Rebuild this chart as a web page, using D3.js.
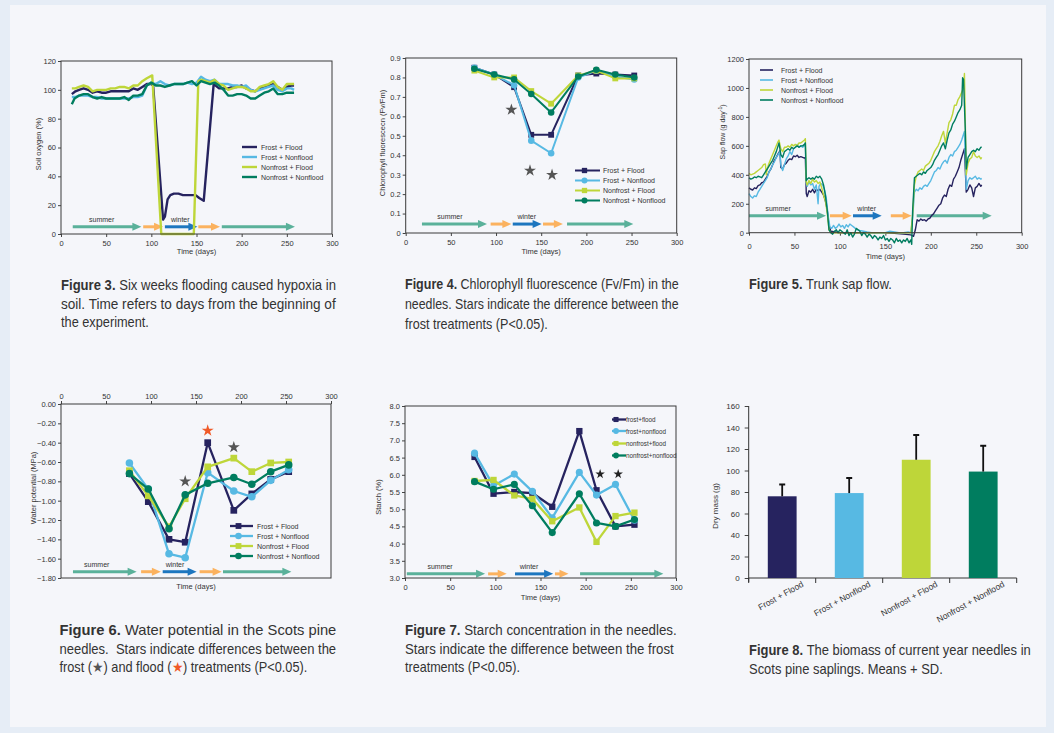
<!DOCTYPE html>
<html>
<head>
<meta charset="utf-8">
<script src="https://cdn.jsdelivr.net/npm/d3@7"></script>
<style>
  body { margin: 0; background: #e6edf6; }
  svg { display: block; font-family: "Liberation Sans", Arial, sans-serif; }
</style>
</head>
<body>
<div id="chart"></div>
<script>
// ---- shared ----
const treatments = ['Frost + Flood', 'Frost + Nonflood', 'Nonfrost + Flood', 'Nonfrost + Nonflood'];
const treatmentsLower = ['frost+flood', 'frost+nonflood', 'nonfrost+flood', 'nonfrost+nonflood'];
const colors = ['#26235f', '#57b9e3', '#bed639', '#007d5f'];
const markerShapes = ['square', 'circle', 'square', 'circle'];
const dayTicks = [0, 50, 100, 150, 200, 250, 300];
const seasonColors = ['#5ab19a', '#fbb25f', '#1d76bf', '#fbb25f', '#5ab19a'];

// ---- Figure 3: soil oxygen (%) ----
const oxyFF = [[12,97],[16,99],[20,100],[25,101],[30,100],[35,98],[40,99],[45,98],[50,98],[55,99],[60,99],[65,99],[70,99],[75,99],[80,101],[85,100],[90,102],[95,104],[100,104],[102,103],[113,10],[115,12],[118,24],[121,27],[125,28],[130,28],[135,27],[140,27],[145,27],[149,27],[153,25],[158,23],[169,104],[175,101],[180,101],[185,101],[190,102],[195,102],[200,103],[205,101],[210,100],[215,99],[220,101],[225,102],[230,103],[235,104],[240,102],[245,100],[250,102],[255,103],[258,103]];
const oxyFN = [[12,95],[16,95],[20,96],[25,96],[30,96],[35,95],[40,95],[45,94],[50,94],[55,94],[60,94],[65,94],[70,94],[75,94],[80,95],[85,95],[90,96],[95,103],[100,105],[105,104],[110,106],[115,104],[120,103],[125,104],[130,104],[135,104],[140,105],[145,104],[150,105],[155,109],[160,107],[165,106],[170,107],[175,104],[180,104],[185,104],[190,103],[195,103],[200,102],[205,103],[210,100],[215,99],[220,100],[225,101],[230,102],[235,103],[240,100],[245,99],[250,101],[255,101],[258,100]];
const oxyNF = [[12,101],[16,101],[20,102],[25,103],[30,102],[35,99],[40,100],[45,100],[50,100],[55,101],[60,101],[65,102],[70,102],[75,101],[80,103],[85,103],[90,106],[95,108],[101,110],[111,0],[147,0],[152,106],[155,107],[160,106],[165,105],[170,107],[175,104],[180,103],[185,100],[190,101],[195,102],[200,102],[205,101],[210,99],[215,99],[220,102],[225,103],[230,104],[235,106],[240,102],[245,100],[250,104],[255,104],[258,104]];
const oxyNN = [[12,90],[15,94],[20,96],[25,97],[30,97],[35,95],[40,94],[45,95],[50,94],[55,94],[60,94],[65,94],[70,95],[75,93],[80,96],[85,96],[90,97],[95,103],[100,105],[105,103],[110,103],[115,102],[120,103],[125,104],[130,104],[135,104],[140,105],[145,106],[150,103],[155,106],[160,105],[165,104],[170,105],[175,103],[180,100],[185,96],[190,96],[195,97],[200,97],[205,96],[210,94],[215,94],[220,96],[225,98],[230,99],[235,101],[240,97],[245,97],[250,98],[255,98],[258,98]];
const oxyTicks = [0, 20, 40, 60, 80, 100, 120];
const oxySeasons = [[13,89],[91,113],[115,151],[152,176],[178,259]];

// ---- Figure 4: chlorophyll fluorescence ----
const fvDays = [76, 98, 120, 139, 161, 191, 211, 232, 253];
const fvFF = [0.85, 0.815, 0.75, 0.505, 0.505, 0.81, 0.82, 0.815, 0.81];
const fvFN = [0.85, 0.815, 0.76, 0.475, 0.41, 0.80, 0.835, 0.805, 0.79];
const fvNF = [0.835, 0.80, 0.80, 0.73, 0.665, 0.81, 0.835, 0.795, 0.795];
const fvNN = [0.845, 0.815, 0.79, 0.715, 0.62, 0.805, 0.84, 0.815, 0.80];
const fvStars = [[117, 0.634], [137.6, 0.321], [162, 0.299]];
const fvTicks = [0, 0.1, 0.2, 0.3, 0.4, 0.5, 0.6, 0.7, 0.8, 0.9];
const fvSeasons = [[18,90],[94,117],[118.5,150.5],[152,174],[178.6,252]];

// ---- Figure 5: trunk sap flow ----
const sapFF = [[0,310],[2,300],[4,295],[6,310],[8,305],[10,325],[12,330],[14,345],[16,350],[18,370],[20,390],[22,420],[24,440],[26,470],[28,500],[30,520],[32,545],[34,565],[35,450],[37,440],[39,470],[41,480],[43,500],[45,510],[47,505],[49,530],[51,525],[53,535],[55,520],[57,525],[59,520],[61,515],[62,520],[63,270],[64,250],[66,290],[68,280],[70,300],[72,275],[74,300],[76,290],[78,300],[80,280],[82,260],[84,220],[86,160],[88,50],[90,10],[95,5],[100,0],[110,0],[120,0],[130,0],[140,0],[150,0],[160,-5],[170,-10],[178,-15],[181,-25],[183,20],[185,90],[187,80],[189,95],[191,85],[193,90],[195,80],[197,95],[199,100],[201,120],[203,130],[205,150],[207,170],[209,190],[211,200],[213,240],[215,260],[217,250],[219,300],[221,330],[223,320],[225,370],[227,390],[229,420],[231,450],[233,500],[235,540],[237,580],[239,280],[241,300],[243,330],[245,310],[247,250],[249,310],[251,320],[253,340],[255,320],[256,330]];
const sapFN = [[0,270],[2,250],[4,240],[6,255],[8,250],[10,280],[12,300],[14,320],[16,340],[18,360],[20,380],[22,420],[24,440],[26,470],[28,490],[30,520],[32,540],[34,560],[35,470],[37,430],[39,470],[41,510],[43,530],[45,560],[47,540],[49,580],[51,590],[53,610],[55,590],[57,600],[59,590],[61,600],[62,610],[63,340],[64,320],[66,350],[68,330],[70,340],[72,300],[74,330],[76,200],[77,320],[79,340],[81,330],[83,300],[85,240],[87,120],[89,40],[91,30],[93,50],[95,30],[97,40],[99,60],[101,40],[103,50],[105,30],[107,55],[109,40],[111,60],[113,50],[115,40],[117,30],[119,20],[122,15],[126,10],[130,5],[135,0],[140,0],[145,-5],[150,0],[155,10],[160,5],[165,0],[170,0],[175,5],[178,0],[180,100],[182,280],[184,300],[186,290],[188,310],[190,300],[192,320],[194,330],[196,320],[198,340],[200,360],[202,390],[204,420],[206,430],[208,450],[210,440],[212,470],[214,490],[216,500],[218,480],[220,520],[222,540],[224,530],[226,560],[228,570],[230,590],[232,610],[234,640],[236,680],[237,700],[239,300],[241,360],[243,380],[245,370],[247,380],[249,390],[251,370],[253,380],[255,370],[256,375]];
const sapNF = [[0,410],[2,400],[4,405],[6,410],[8,420],[10,430],[12,440],[14,450],[16,470],[18,475],[19,400],[20,440],[22,480],[24,510],[26,540],[28,570],[30,600],[32,630],[33,640],[35,580],[37,560],[39,590],[41,590],[43,600],[45,590],[47,610],[49,600],[51,610],[53,600],[55,620],[57,620],[59,630],[61,640],[62,650],[63,350],[64,330],[66,360],[68,340],[70,370],[72,350],[74,360],[76,340],[78,350],[80,310],[82,260],[84,220],[86,140],[88,20],[90,0],[100,0],[110,0],[120,0],[130,0],[140,0],[150,0],[160,0],[170,0],[178,0],[180,120],[182,330],[184,390],[186,420],[188,430],[190,440],[192,430],[194,460],[196,470],[198,480],[200,500],[202,530],[204,560],[206,580],[208,600],[210,630],[212,670],[214,700],[216,620],[218,690],[220,760],[222,780],[224,820],[226,880],[228,880],[230,920],[232,940],[234,970],[236,1000],[237,1100],[239,400],[241,480],[243,510],[245,520],[247,560],[249,530],[251,520],[253,530],[255,510],[256,520]];
const sapNN = [[0,380],[2,370],[4,375],[6,385],[8,380],[10,390],[12,385],[14,380],[16,400],[18,420],[20,440],[22,460],[24,480],[26,500],[28,530],[30,560],[32,600],[33,620],[35,540],[37,520],[39,560],[41,570],[43,580],[45,570],[47,590],[49,580],[51,590],[53,600],[55,590],[57,600],[59,600],[61,610],[62,620],[63,360],[64,370],[66,380],[68,370],[70,380],[72,370],[74,390],[76,380],[78,390],[80,370],[82,330],[84,260],[86,160],[88,20],[90,0],[92,-10],[94,10],[96,20],[98,0],[100,20],[102,10],[104,0],[106,-10],[108,20],[110,-20],[112,0],[114,-30],[116,-10],[118,30],[120,20],[122,10],[124,-20],[126,0],[128,-10],[130,-30],[132,-10],[134,-20],[136,-40],[138,-20],[140,-30],[142,-50],[144,-30],[146,-40],[148,-20],[150,-50],[152,-40],[154,-60],[156,-40],[158,-50],[160,-70],[162,-40],[164,-60],[166,-50],[168,-70],[170,-50],[172,-60],[174,-40],[176,-70],[178,-50],[179,-80],[180,150],[182,380],[184,390],[186,400],[188,410],[190,400],[192,420],[194,410],[196,430],[198,440],[200,450],[202,470],[204,500],[206,520],[208,540],[210,570],[212,600],[214,620],[216,580],[218,640],[220,690],[222,710],[224,750],[226,770],[228,800],[230,830],[232,850],[234,880],[235,1070],[236,1060],[238,700],[239,440],[241,520],[243,540],[245,560],[247,570],[249,560],[251,580],[253,570],[255,590],[256,590]];
const sapTicks = [0, 200, 400, 600, 800, 1000, 1200];
const sapSeasons = [[0,84.7],[89,113],[114.4,146],[156,179],[184.5,267]];

// ---- Figure 6: water potential (MPa) ----
const wpDays = [76, 97, 120, 138, 163, 192, 212, 233, 253];
const wpFF = [-0.72, -1.01, -1.40, -1.43, -0.40, -1.10, -0.93, -0.78, -0.70];
const wpFN = [-0.61, -0.88, -1.55, -1.59, -0.71, -0.90, -0.96, -0.79, -0.68];
const wpNF = [-0.69, -0.95, -1.27, -0.98, -0.65, -0.56, -0.70, -0.61, -0.60];
const wpNN = [-0.72, -0.88, -1.29, -0.94, -0.82, -0.76, -0.83, -0.70, -0.63];
const wpFrostStars = [[138, -0.80], [192, -0.447]];
const wpFloodStars = [[163, -0.275]];
const wpTicks = [0, -0.2, -0.4, -0.6, -0.8, -1.0, -1.2, -1.4, -1.6, -1.8];
const wpSeasons = [[13.3,84],[89,111],[113,150.7],[154,178.5],[180,256]];

// ---- Figure 7: starch (%) ----
const stDays = [77, 98, 121, 141, 163, 193, 212, 233, 254];
const stFF = [6.52, 5.45, 5.5, 5.47, 5.07, 7.27, 5.55, 4.5, 4.55];
const stFN = [6.63, 5.68, 6.02, 5.52, 4.75, 6.07, 5.41, 5.72, 4.68];
const stNF = [5.82, 5.85, 5.4, 5.3, 4.65, 5.05, 4.05, 4.8, 4.9];
const stNN = [5.8, 5.58, 5.72, 5.1, 4.32, 5.45, 4.6, 4.5, 4.7];
const stStars = [[216, 6.02], [236, 6.02]];
const stTicks = [3, 3.5, 4, 4.5, 5, 5.5, 6, 6.5, 7, 7.5, 8];
const stSeasons = [[2,88.6],[92,112.6],[121.8,164],[166,181],[193.8,286]];

// ---- Figure 8: needle biomass ----
const massMean = [76, 79, 110, 99];
const massSD = [11, 14, 23, 24];
const massTicks = [0, 20, 40, 60, 80, 100, 120, 140, 160];

// ---- captions ----
const cap3 = ['Six weeks flooding caused hypoxia in', 'soil. Time refers to days from the beginning of', 'the experiment.'];
const cap4 = ['Chlorophyll fluorescence (Fv/Fm) in the', 'needles. Stars indicate the difference between the', 'frost treatments (P<0.05).'];
const cap5 = ['Trunk sap flow.'];
const cap6 = ['Water potential in the Scots pine', 'needles.  Stars indicate differences between the'];
const cap7 = ['Starch concentration in the needles.', 'Stars indicate the difference between the frost', 'treatments (P<0.05).'];
const cap8 = ['The biomass of current year needles in', 'Scots pine saplings. Means + SD.'];

const W = 1054, H = 733;
const svg = d3.select('#chart').append('svg').attr('width', W).attr('height', H);
svg.append('rect').attr('width', W).attr('height', H).attr('fill', '#e6edf6');
svg.append('rect').attr('x', 10).attr('y', 5).attr('width', 1036).attr('height', 722).attr('fill', '#f5f6fa');

function styleAxis(a, fs) {
  a.select('.domain').remove();
  a.selectAll('line').attr('stroke', '#444');
  a.selectAll('text').attr('fill', '#333').style('font-size', (fs || 7.5) + 'px');
}

function linePanel(o) {
  const x = d3.scaleLinear().domain([0, 300]).range(o.xr);
  const y = d3.scaleLinear().domain(o.yd).range(o.yr);
  const top = Math.min(...o.yr), bot = Math.max(...o.yr);
  const g = svg.append('g');
  const ya = g.append('g').attr('transform', `translate(${o.xr[0]},0)`)
    .call(d3.axisLeft(y).tickValues(o.yt).tickFormat(o.yf).tickSize(3).tickPadding(2));
  styleAxis(ya);
  let xa;
  if (o.xTop) {
    xa = g.append('g').attr('transform', `translate(0,${top})`)
      .call(d3.axisTop(x).tickValues(dayTicks).tickSize(3).tickPadding(2));
  } else {
    xa = g.append('g').attr('transform', `translate(0,${bot})`)
      .call(d3.axisBottom(x).tickValues(dayTicks).tickSize(3).tickPadding(o.xpad || 4));
  }
  styleAxis(xa);
  // axis titles
  if (o.yTitle) {
    g.append('text').attr('transform', `translate(${o.yTitleX},${o.yTitleY}) rotate(-90)`)
      .attr('text-anchor', 'middle').attr('fill', '#333').style('font-size', '7.5px')
      .text(o.yTitle);
  }
  g.append('text').attr('x', (o.xr[0] + o.xr[1]) / 2).attr('y', o.xTitleY)
    .attr('text-anchor', 'middle').attr('fill', '#333').style('font-size', '7.5px').text('Time (days)');
  const plot = g.append('g');
  g.append('rect').attr('x', o.xr[0]).attr('y', top).attr('width', o.xr[1] - o.xr[0])
    .attr('height', bot - top).attr('fill', 'none').attr('stroke', '#3a3a3a').attr('stroke-width', 1);
  return { g: plot, x, y };
}

function drawSeasons(p, spans, yv, summerDay, winterDay) {
  const yy = p.y(yv);
  spans.forEach((s, i) => {
    const x0 = p.x(s[0]), x1 = p.x(s[1]);
    p.g.append('line').attr('x1', x0).attr('x2', x1 - 7).attr('y1', yy).attr('y2', yy)
      .attr('stroke', seasonColors[i]).attr('stroke-width', 3);
    p.g.append('path').attr('d', `M${x1 - 9},${yy - 4}L${x1},${yy}L${x1 - 9},${yy + 4}Z`)
      .attr('fill', seasonColors[i]);
  });
  [['summer', summerDay], ['winter', winterDay]].forEach(l => {
    p.g.append('text').attr('x', p.x(l[1])).attr('y', yy - 5).attr('text-anchor', 'middle')
      .attr('fill', '#333').style('font-size', '7px').text(l[0]);
  });
}

function symbolOf(shape, size) {
  return d3.symbol().type(shape === 'square' ? d3.symbolSquare : d3.symbolCircle).size(size)();
}

function drawSeries(p, series, lw, msize) {
  const line = d3.line().x(d => p.x(d[0])).y(d => p.y(d[1]));
  series.forEach((s, i) => {
    p.g.append('path').datum(s).attr('d', line).attr('fill', 'none')
      .attr('stroke', colors[i]).attr('stroke-width', lw).attr('stroke-linejoin', 'round');
    if (msize) {
      p.g.selectAll(null).data(s).enter().append('path')
        .attr('d', symbolOf(markerShapes[i], msize))
        .attr('transform', d => `translate(${p.x(d[0])},${p.y(d[1])})`)
        .attr('fill', colors[i]);
    }
  });
}

function drawStars(p, pts, color, size) {
  p.g.selectAll(null).data(pts).enter().append('path')
    .attr('d', d3.symbol().type(d3.symbolStar).size(size)())
    .attr('transform', d => `translate(${p.x(d[0])},${p.y(d[1])})`)
    .attr('fill', color);
}

function legend(g, x0, x1, tx, ys, labels, fs, lw, msize) {
  labels.forEach((t, i) => {
    g.append('line').attr('x1', x0).attr('x2', x1).attr('y1', ys[i]).attr('y2', ys[i])
      .attr('stroke', colors[i]).attr('stroke-width', lw);
    if (msize) {
      g.append('path').attr('d', symbolOf(markerShapes[i], msize))
        .attr('transform', `translate(${(x0 + x1) / 2 - 3},${ys[i]})`).attr('fill', colors[i]);
    }
    g.append('text').attr('x', tx).attr('y', ys[i] + 2.5).attr('fill', '#333')
      .style('font-size', fs + 'px').text(t);
  });
}

const zip = (days, vals) => days.map((d, i) => [d, vals[i]]);

// ---------- Figure 3 ----------
const p3 = linePanel({ xr: [61, 332], yr: [234, 61], yd: [0, 120], yt: oxyTicks, yf: d3.format('d'),
  yTitle: 'Soil oxygen (%)', yTitleX: 41, yTitleY: 144, xTitleY: 254 });
drawSeasons(p3, oxySeasons, 5, 45, 132);
drawSeries(p3, [oxyFF, oxyFN, oxyNF, oxyNN], 2.4, 0);
legend(p3.g, 242, 257, 261, [147, 157, 167, 177], treatments, 7, 2.4, 0);

// ---------- Figure 4 ----------
const p4 = linePanel({ xr: [405.7, 676.7], yr: [233, 58], yd: [0, 0.9], yt: fvTicks, yf: d => d === 0 ? '0' : d3.format('.1f')(d),
  yTitle: 'Chlorophyll fluorescecn (Fv/Fm)', yTitleX: 385, yTitleY: 143, xTitleY: 254 });
drawSeasons(p4, fvSeasons, 0.046, 49, 134);
drawSeries(p4, [zip(fvDays, fvFF), zip(fvDays, fvFN), zip(fvDays, fvNF), zip(fvDays, fvNN)], 2, 34);
drawStars(p4, fvStars, '#555', 45);
legend(p4.g, 575, 600, 603, [170.5, 180.5, 190.5, 200.5], treatments, 7, 2, 28);

// ---------- Figure 5 ----------
const p5 = linePanel({ xr: [749, 1021.7], yr: [232.7, 59], yd: [0, 1200], yt: sapTicks, yf: d3.format('d'),
  yTitle: '', xTitleY: 259, xpad: 8 });
p5.g.append('text').attr('transform', 'translate(725,132) rotate(-90)').attr('text-anchor', 'middle')
  .attr('fill', '#333').style('font-size', '7px')
  .call(t => { t.append('tspan').text('Sap flow (g day'); t.append('tspan').attr('dy', -3).style('font-size', '5px').text('-1'); t.append('tspan').attr('dy', 3).text(')'); });
drawSeasons(p5, sapSeasons, 117, 32, 129.5);
drawSeries(p5, [sapFF, sapFN, sapNF, sapNN], 1.4, 0);
legend(p5.g, 760, 773, 781, [70, 80, 90, 100], treatments, 7, 1.6, 0);

// ---------- Figure 6 ----------
const p6 = linePanel({ xr: [61, 331], yr: [404, 578], yd: [0, -1.8], yt: wpTicks, yf: d3.format('.2f'),
  yTitle: 'Water potential (MPa)', yTitleX: 36, yTitleY: 488, xTitleY: 589, xTop: true });
drawSeasons(p6, wpSeasons, -1.735, 39.7, 126.7);
drawSeries(p6, [zip(wpDays, wpFF), zip(wpDays, wpFN), zip(wpDays, wpNF), zip(wpDays, wpNN)], 2.3, 45);
drawStars(p6, wpFrostStars, '#555', 45);
drawStars(p6, wpFloodStars, '#f05a28', 45);
legend(p6.g, 230, 253, 257, [526, 536, 546, 556], treatments, 7, 2.3, 34);

// ---------- Figure 7 ----------
const p7 = linePanel({ xr: [405, 676], yr: [578, 406], yd: [3, 8], yt: stTicks, yf: d3.format('.1f'),
  yTitle: 'Starch (%)', yTitleX: 381, yTitleY: 497, xTitleY: 600, xpad: 4 });
drawSeasons(p7, stSeasons, 3.12, 38.8, 137.3);
drawSeries(p7, [zip(stDays, stFF), zip(stDays, stFN), zip(stDays, stNF), zip(stDays, stNN)], 2.3, 40);
drawStars(p7, stStars, '#222', 28);
legend(p7.g, 612, 626, 626, [419.5, 431, 443.5, 455.5], treatmentsLower, 6.3, 2.3, 26);

// ---------- Figure 8 ----------
const g8 = svg.append('g');
const xb = d3.scaleBand().domain(treatments).range([748.7, 1016.7]).paddingInner(0.57).paddingOuter(0.285);
const yb = d3.scaleLinear().domain([0, 160]).range([578, 406]);
const ya8 = g8.append('g').attr('transform', 'translate(748.7,0)')
  .call(d3.axisLeft(yb).tickValues(massTicks).tickSize(4).tickPadding(5));
styleAxis(ya8, 8);
g8.append('line').attr('x1', 748.7).attr('x2', 748.7).attr('y1', 406).attr('y2', 582).attr('stroke', '#333');
g8.append('line').attr('x1', 748.7).attr('x2', 1016.7).attr('y1', 578).attr('y2', 578).attr('stroke', '#333');
d3.range(treatments.length + 1).forEach(i => {
  const bx = 748.7 + i * xb.step();
  g8.append('line').attr('x1', bx).attr('x2', bx).attr('y1', 578).attr('y2', 583).attr('stroke', '#333');
});
g8.selectAll(null).data(treatments).enter().append('rect')
  .attr('x', d => xb(d)).attr('width', xb.bandwidth())
  .attr('y', (d, i) => yb(massMean[i])).attr('height', (d, i) => 578 - yb(massMean[i]))
  .attr('fill', (d, i) => colors[i]);
treatments.forEach((t, i) => {
  const cx = xb(t) + xb.bandwidth() / 2;
  g8.append('line').attr('x1', cx).attr('x2', cx).attr('y1', yb(massMean[i])).attr('y2', yb(massMean[i] + massSD[i]))
    .attr('stroke', '#111').attr('stroke-width', 1.8);
  g8.append('line').attr('x1', cx - 3).attr('x2', cx + 3).attr('y1', yb(massMean[i] + massSD[i])).attr('y2', yb(massMean[i] + massSD[i]))
    .attr('stroke', '#111').attr('stroke-width', 2);
  g8.append('text').attr('transform', `translate(${cx + 22},586) rotate(-29)`).attr('text-anchor', 'end')
    .attr('fill', '#333').style('font-size', '8.5px').text(t);
});
g8.append('text').attr('transform', 'translate(718,506) rotate(-90)').attr('text-anchor', 'middle')
  .attr('fill', '#333').style('font-size', '8px').text('Dry mass (g)');

// ---------- captions ----------
// a line is one <text> with tspans [text, bold, fill]; it is squeezed or
// stretched horizontally as a whole so that it ends at the wanted width
function richLine(x, y, segs, width) {
  const t = svg.append('text').attr('x', 0).attr('y', 0).attr('fill', '#333')
    .style('font-size', '14px').style('white-space', 'pre');
  segs.forEach(s => {
    const ts = t.append('tspan').text(s[0]);
    if (s[1]) ts.style('font-weight', 'bold');
    if (s[2]) ts.attr('fill', s[2]);
  });
  const natural = t.node().getComputedTextLength();
  const k = width ? width / natural : 1;
  t.attr('transform', `translate(${x},${y}) scale(${k},1)`);
}
function caption(x, y0, dy, num, lines, widths) {
  lines.forEach((l, i) => {
    const segs = i === 0 ? [['Figure ' + num + '. ', true], [l, false]] : [[l, false]];
    richLine(x, y0 + i * dy, segs, widths[i]);
  });
}
caption(61, 290, 18.5, 3, cap3, [275, 275, 88]);
caption(405, 289, 20, 4, cap4, [274, 274, 143]);
caption(749, 289, 18, 5, cap5, [143]);
caption(59.5, 635, 18.5, 6, cap6, [277, 277]);
richLine(59.5, 672, [['frost ('], ['\u2605', false, '#555'], [') and flood ('], ['\u2605', false, '#f05a28'], [') treatments (P<0.05).']], 249);
caption(405, 635, 18.5, 7, cap7, [272, 269, 115]);
caption(749, 655, 18.5, 8, cap8, [282, 194]);
</script>
</body>
</html>
